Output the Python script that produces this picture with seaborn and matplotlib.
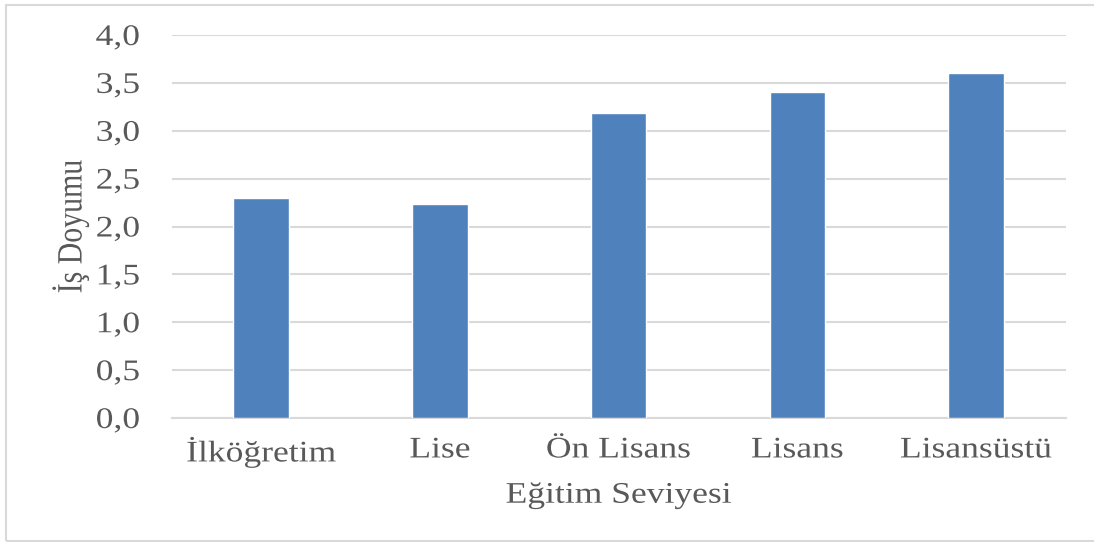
import matplotlib
matplotlib.use("Agg")
import matplotlib.pyplot as plt
import seaborn as sns
import pandas as pd
from matplotlib.patches import Rectangle
from matplotlib.patheffects import AbstractPathEffect
from matplotlib.transforms import Affine2D
from matplotlib.ticker import MultipleLocator, FuncFormatter

# Mean job satisfaction by education level
levels = ["İlköğretim", "Lise", "Ön Lisans", "Lisans", "Lisansüstü"]
satisfaction = [2.30, 2.24, 3.19, 3.40, 3.60]

df = pd.DataFrame({"level": levels, "score": satisfaction})

sns.set_theme(style="white")
plt.rcParams["font.family"] = ["Liberation Serif", "DejaVu Serif"]

text_color = "#595959"
grid_color = "#d9d9d9"
bar_color = "#4f81bd"
font_size = 21.5


class WideText(AbstractPathEffect):
    """Stretch glyph outlines horizontally around a chosen anchor."""

    def __init__(self, sx=1.19, anchor="center"):
        super().__init__()
        self.sx = sx
        self.anchor = anchor

    def draw_path(self, renderer, gc, tpath, affine, rgbFace=None):
        ext = tpath.get_extents(affine)
        if self.anchor == "right":
            ax_ = ext.x1
        elif self.anchor == "left":
            ax_ = ext.x0
        else:
            ax_ = 0.5 * (ext.x0 + ext.x1)
        stretch = Affine2D().translate(-ax_, 0).scale(self.sx, 1).translate(ax_, 0)
        renderer.draw_path(gc, tpath, affine + stretch, rgbFace)


fig = plt.figure(figsize=(10.94, 5.42), dpi=100)
ax = fig.add_axes([0.157, 0.2288, 0.817, 0.7066])

sns.barplot(data=df, x="level", y="score", color=bar_color, width=0.31,
            saturation=1, ax=ax, zorder=3)

ax.set_ylim(0, 4.0)
ax.set_xlim(-0.5, len(levels) - 0.5)
ax.yaxis.set_major_locator(MultipleLocator(0.5))
ax.yaxis.set_major_formatter(FuncFormatter(lambda v, _: f"{v:.1f}".replace(".", ",")))
ax.grid(axis="y", color=grid_color, linewidth=1.5, zorder=0)
ax.grid(axis="x", visible=False)

for side in ["top", "right", "left"]:
    ax.spines[side].set_visible(False)
ax.spines["bottom"].set_color(grid_color)
ax.spines["bottom"].set_linewidth(1.5)

ax.tick_params(axis="both", length=0, labelsize=font_size, colors=text_color)
ax.tick_params(axis="x", pad=14)
ax.tick_params(axis="y", pad=23)

ax.set_xlabel("Eğitim Seviyesi", fontsize=font_size, color=text_color, labelpad=11)
ax.set_ylabel("İş Doyumu", fontsize=font_size, color=text_color, labelpad=12)

for lab in ax.get_xticklabels():
    lab.set_path_effects([WideText(anchor="center")])
for lab in ax.get_yticklabels():
    lab.set_path_effects([WideText(anchor="right")])
ax.xaxis.label.set_path_effects([WideText(anchor="center")])
ax.yaxis.label.set_path_effects([WideText(anchor="center")])

# light frame around the chart
fig.patches.append(Rectangle((0.0055, 0.0018), 1.2, 0.989, transform=fig.transFigure,
                             fill=False, edgecolor="#d9d9d9", linewidth=1.5))

fig.savefig("out.png", dpi=100, facecolor="white")
